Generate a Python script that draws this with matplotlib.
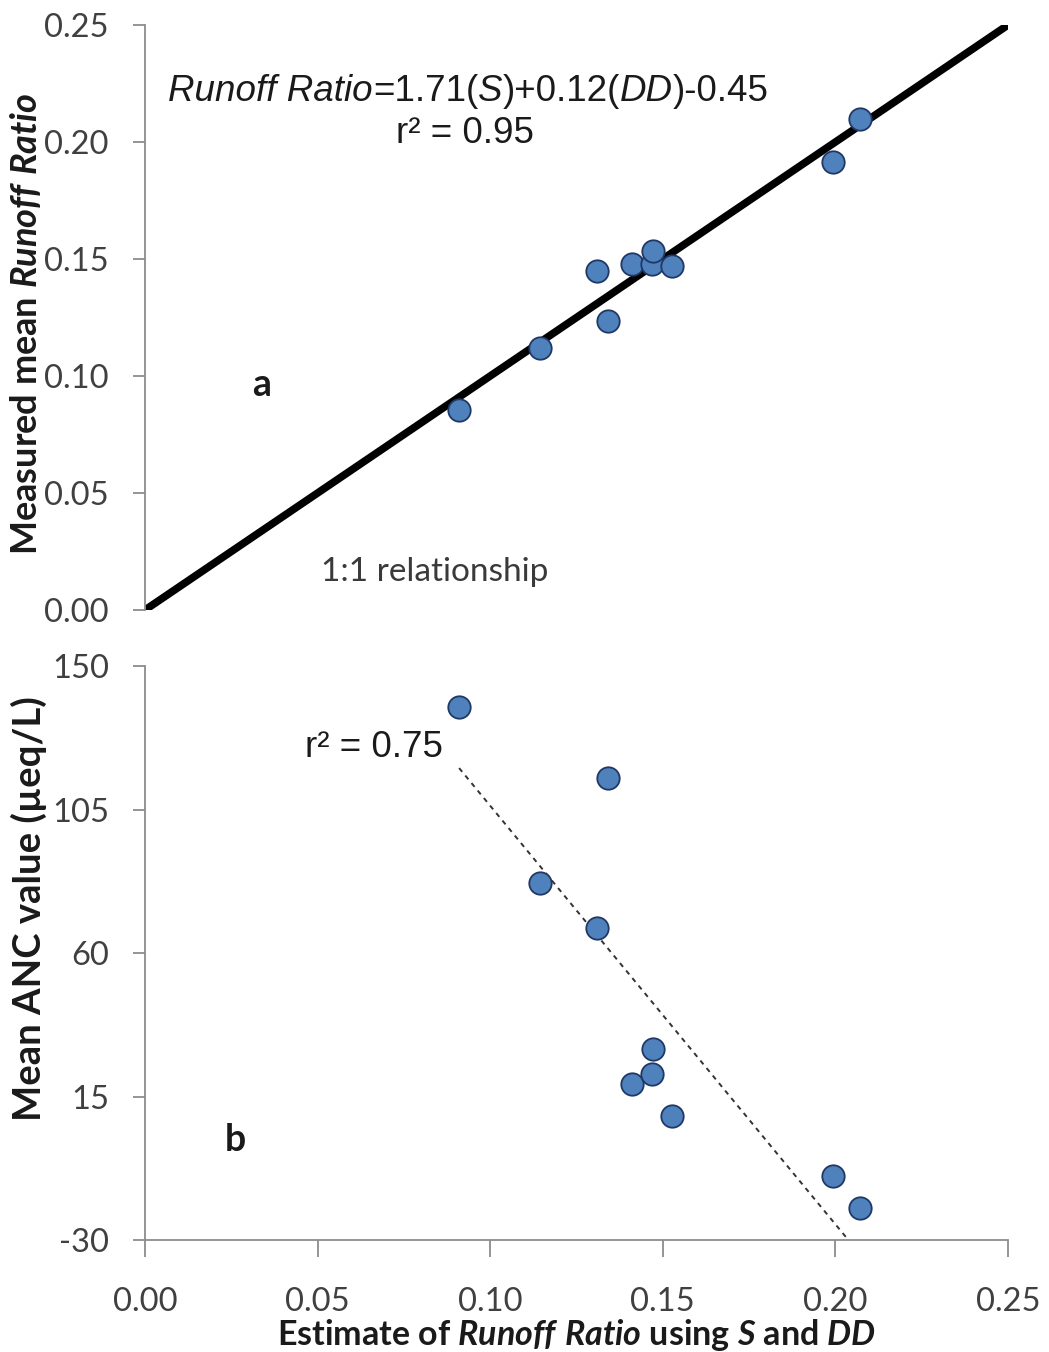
import numpy as np
import matplotlib.pyplot as plt

plt.rcParams['font.family'] = 'Lato'
plt.rcParams['axes.unicode_minus'] = False
plt.rcParams['mathtext.fontset'] = 'custom'
plt.rcParams['mathtext.rm'] = 'Lato:bold'
plt.rcParams['mathtext.bf'] = 'Lato:bold'
plt.rcParams['mathtext.bfit'] = 'Lato:italic:bold'
plt.rcParams['mathtext.it'] = 'Lato:italic:bold'

# estimated runoff ratio (from S and DD), one value per catchment
est = [0.091, 0.1145, 0.131, 0.134, 0.141, 0.147, 0.1472, 0.1527, 0.1993, 0.207]
# measured mean runoff ratio
runoff = [0.0855, 0.112, 0.145, 0.1235, 0.148, 0.148, 0.1535, 0.147, 0.1915, 0.210]
# mean ANC value (ueq/L)
anc = [137, 82, 68, 115, 19, 22, 30, 9, -10, -20]

x_ticks = [0.00, 0.05, 0.10, 0.15, 0.20, 0.25]
top_ticks = [0.00, 0.05, 0.10, 0.15, 0.20, 0.25]
bot_ticks = [-30, 15, 60, 105, 150]

pt_face = '#4f81bd'
pt_edge = '#1f3864'
spine_c = '#8c8c8c'
tick_c = '#404040'
text_c = '#1a1a1a'

fig = plt.figure(figsize=(10.49, 13.52), dpi=100)
ax1 = fig.add_axes([0.1382, 0.5488, 0.8227, 0.4327])
ax2 = fig.add_axes([0.1382, 0.0828, 0.8227, 0.4246])


def style_axis(ax):
    for s in ['top', 'right']:
        ax.spines[s].set_visible(False)
    ax.spines['left'].set_color(spine_c)
    ax.spines['bottom'].set_color(spine_c)
    ax.spines['left'].set_linewidth(1.3)
    ax.spines['bottom'].set_linewidth(1.3)
    ax.tick_params(axis='both', direction='out', length=9, width=1.3,
                   color=spine_c, labelcolor=tick_c, labelsize=23.5)
    ax.tick_params(axis='y', pad=17)


def chain_text(ax, x, y, parts, **kw):
    """Put text pieces with different styles one after another."""
    t = ax.text(x, y, parts[0][0], transform=ax.transAxes,
                style=parts[0][1], va='bottom', ha='left', **kw)
    for txt, st in parts[1:]:
        t = ax.annotate(txt, xy=(1, 0), xycoords=t, style=st,
                        va='bottom', ha='left', **kw)
    return t


# ---- panel a ----
style_axis(ax1)
ax1.spines['bottom'].set_visible(False)
ax1.tick_params(axis='x', bottom=False, labelbottom=False)
ax1.plot([0, 0.25], [0, 0.25], color='black', lw=5.5, solid_capstyle='butt', zorder=2)
ax1.scatter(est, runoff, s=260, c=pt_face, edgecolors=pt_edge, linewidths=1.3, zorder=3)
ax1.set_xlim(0, 0.25)
ax1.set_ylim(0, 0.25)
ax1.set_yticks(top_ticks)
ax1.set_yticklabels([f'{v:.2f}' for v in top_ticks])
ax1.set_ylabel(r'Measured mean $\mathbfit{Runoff\ Ratio}$', fontsize=26,
               fontweight='bold', color=text_c)
ax1.yaxis.set_label_coords(-0.118, 0.49)

eq_kw = dict(family='Liberation Sans', fontsize=26.5, color=text_c)
chain_text(ax1, 0.027, 0.857,
           [('Runoff Ratio', 'italic'), ('=1.71(', 'normal'), ('S', 'italic'),
            (')+0.12(', 'normal'), ('DD', 'italic'), (')-0.45', 'normal')], **eq_kw)
ax1.text(0.371, 0.785, 'r² = 0.95', transform=ax1.transAxes, ha='center',
         va='bottom', **eq_kw)
ax1.text(0.1356, 0.385, 'a', transform=ax1.transAxes, fontsize=27,
         fontweight='bold', color=text_c, ha='center', va='center')
ax1.text(0.336, 0.065, '1:1 relationship', transform=ax1.transAxes,
         fontsize=24, color='#3a3a3a', ha='center', va='center')

# ---- panel b ----
style_axis(ax2)
ax2.tick_params(axis='x', length=12, pad=22)
slope, icpt = np.polyfit(est, anc, 1)
xs = np.array([min(est), 0.25])
ax2.plot(xs, slope * xs + icpt, color='#333333', lw=1.4, ls=(0, (2.5, 2.5)), zorder=2)
ax2.scatter(est, anc, s=260, c=pt_face, edgecolors=pt_edge, linewidths=1.3, zorder=3)
ax2.set_xlim(0, 0.25)
ax2.set_ylim(-30, 150)
ax2.set_xticks(x_ticks)
ax2.set_xticklabels([f'{v:.2f}' for v in x_ticks])
ax2.set_yticks(bot_ticks)
ax2.set_ylabel('Mean ANC value (µeq/L)', fontsize=27.5, fontweight='bold',
               color=text_c)
ax2.yaxis.set_label_coords(-0.113, 0.577)
ax2.set_xlabel(r'Estimate of $\mathbfit{Runoff\ Ratio}$ using $\mathbfit{S}$ and $\mathbfit{DD}$',
               fontsize=24.5, fontweight='bold', color=text_c, labelpad=0)
ax2.text(0.185, 0.828, 'r² = 0.75', transform=ax2.transAxes, ha='left',
         va='bottom', **eq_kw)
ax2.text(0.105, 0.174, 'b', transform=ax2.transAxes, fontsize=27,
         fontweight='bold', color=text_c, ha='center', va='center')

fig.savefig('out.png', dpi=100)
